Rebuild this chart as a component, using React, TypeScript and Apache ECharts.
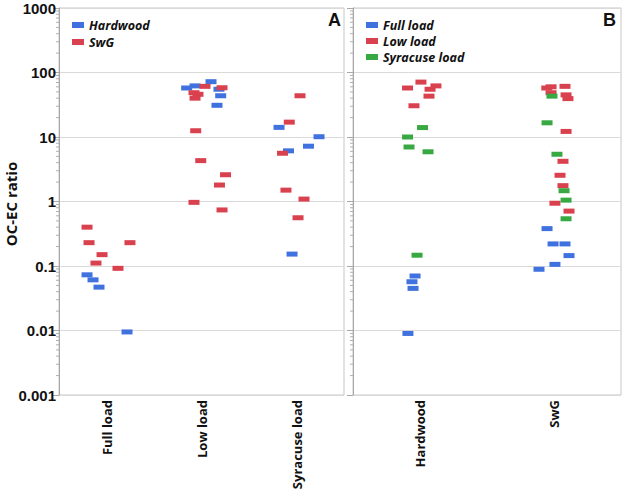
import React, { useEffect, useRef } from "react";
import * as echarts from "echarts";

// ---------- Data ----------
// Panel A: categories are boiler loads, series are fuels
const loadCategories = ["Full load", "Low load", "Syracuse load"];
// Panel B: categories are fuels, series are loads
const fuelCategories = ["Hardwood", "SwG"];

// Each point: [categoryIndex, horizontal jitter (category units), OC-EC ratio]
const panelAHardwood: [number, number, number][] = [
  [0, -0.205, 0.073], [0, -0.142, 0.061], [0, -0.079, 0.047], [0, 0.216, 0.0095],
  [1, -0.156, 57.5], [1, -0.068, 62], [1, 0.1, 72], [1, 0.184, 55], [1, 0.202, 43.6], [1, 0.163, 31],
  [2, -0.184, 14.1], [2, 0.237, 10.1], [2, 0.126, 7.2], [2, -0.084, 6.1], [2, -0.047, 0.153],
];
const panelASwG: [number, number, number][] = [
  [0, -0.205, 0.4], [0, -0.184, 0.23], [0, -0.047, 0.15], [0, -0.111, 0.111], [0, 0.121, 0.092], [0, 0.247, 0.23],
  [1, -0.079, 48.6], [1, -0.037, 45.9], [1, -0.068, 40], [1, 0.037, 61], [1, 0.216, 58],
  [1, -0.061, 12.5], [1, -0.008, 4.3], [1, 0.253, 2.6], [1, 0.189, 1.8], [1, -0.079, 0.97], [1, 0.216, 0.74],
  [2, 0.037, 43.6], [2, -0.076, 17], [2, -0.147, 5.6], [2, -0.111, 1.5], [2, 0.079, 1.09], [2, 0.016, 0.56],
];
const panelBFullLoad: [number, number, number][] = [
  [0, -0.037, 0.07], [0, -0.06, 0.057], [0, -0.052, 0.045], [0, -0.09, 0.009],
  [1, -0.052, 0.38], [1, -0.007, 0.22], [1, 0.082, 0.22], [1, 0.112, 0.145], [1, 0.007, 0.106], [1, -0.112, 0.089],
];
const panelBLowLoad: [number, number, number][] = [
  [0, -0.093, 57.5], [0, 0.007, 71], [0, 0.075, 55], [0, 0.119, 62], [0, 0.067, 43], [0, -0.045, 30.5],
  [1, -0.054, 57.5], [1, -0.022, 60], [1, -0.022, 48.6], [1, 0.082, 61], [1, 0.09, 45], [1, 0.104, 39.4],
  [1, 0.09, 12.2], [1, 0.067, 4.2], [1, 0.045, 2.55], [1, 0.067, 1.76], [1, 0.007, 0.94], [1, 0.112, 0.71],
];
const panelBSyracuse: [number, number, number][] = [
  [0, 0.019, 14], [0, -0.093, 10], [0, -0.082, 7], [0, 0.06, 5.9], [0, -0.022, 0.147],
  [1, -0.015, 43], [1, -0.052, 16.6], [1, 0.022, 5.4], [1, 0.075, 1.47], [1, 0.09, 1.05], [1, 0.09, 0.54],
];

const yTickLabels = ["0.001", "0.01", "0.1", "1", "10", "100", "1000"];
const yAxisTitle = "OC-EC ratio";

// ---------- Styles ----------
const BLUE = "#3F72DE";
const RED = "#D9414E";
const GREEN = "#38A942";
const SEGOE = "'Open Sans', 'DejaVu Sans', sans-serif";
const ARIAL = "'Liberation Sans', Arial, sans-serif";

const minorTickValues: number[] = [];
for (let e = -3; e < 3; e++) {
  for (let m = 2; m <= 9; m++) minorTickValues.push(m * Math.pow(10, e));
}

const toPoints = (arr: [number, number, number][]) => arr.map((p) => [p[0] + p[1], p[2]]);

function scatter(name: string, data: [number, number, number][], color: string, xi: number, yi: number) {
  return {
    type: "scatter",
    name,
    xAxisIndex: xi,
    yAxisIndex: yi,
    data: toPoints(data),
    symbol: "rect",
    symbolSize: [11, 5],
    itemStyle: { color, opacity: 1 },
    emphasis: { disabled: true },
  };
}

function minorTicks(xi: number, yi: number) {
  return {
    type: "custom",
    xAxisIndex: xi,
    yAxisIndex: yi,
    silent: true,
    clip: false,
    data: minorTickValues.map((v) => [0, v]),
    renderItem: (params: any, api: any) => {
      const xMin = params.coordSys.x;
      const y = api.coord([0, api.value(1)])[1];
      return {
        type: "line",
        shape: { x1: xMin - 3, y1: y, x2: xMin, y2: y },
        style: { stroke: "#b0b0b0", lineWidth: 1 },
      };
    },
  };
}

function yAxis(gridIndex: number, showLabels: boolean) {
  return {
    type: "log",
    logBase: 10,
    gridIndex,
    min: 0.001,
    max: 1000,
    axisLine: { show: true, onZero: false, lineStyle: { color: "#a8a8a8", width: 1 } },
    axisTick: { show: true, length: 6, lineStyle: { color: "#a8a8a8" } },
    splitLine: { show: true, lineStyle: { color: "#dadada", width: 1 } },
    axisLabel: {
      show: showLabels,
      margin: 3,
      fontFamily: ARIAL,
      fontWeight: "bold",
      fontSize: 15,
      color: "#111",
      formatter: (v: number) => {
        const idx = Math.round(Math.log10(v)) + 3;
        return yTickLabels[idx] ?? String(v);
      },
    },
  };
}

function catAxis(gridIndex: number, cats: string[]) {
  return {
    type: "category",
    gridIndex,
    data: cats,
    boundaryGap: true,
    axisLine: { show: false, onZero: false },
    axisTick: { show: false },
    splitLine: { show: false },
    axisLabel: {
      rotate: 90,
      margin: 5,
      fontFamily: SEGOE,
      fontWeight: "bold",
      fontSize: 13,
      color: "#111",
    },
  };
}

function valAxis(gridIndex: number, n: number) {
  return { type: "value", gridIndex, min: -0.5, max: n - 0.5, show: false, axisLine: { onZero: false } };
}

const legendText = {
  fontFamily: SEGOE,
  fontWeight: "bold",
  fontStyle: "italic",
  fontSize: 12.5,
  lineHeight: 14,
  color: "#111",
};

export default function App() {
  const ref = useRef<HTMLDivElement>(null);
  useEffect(() => {
    if (!ref.current) return;
    const chart = echarts.init(ref.current, undefined, { renderer: "svg" });
    chart.setOption({
      animation: false,
      backgroundColor: "#ffffff",
      grid: [
        { left: 59, top: 8, width: 285, height: 387, show: true, borderColor: "#c6c6c6", borderWidth: 1, outerBoundsMode: "none", containLabel: false },
        { left: 353, top: 8, width: 268, height: 387, show: true, borderColor: "#c6c6c6", borderWidth: 1, outerBoundsMode: "none", containLabel: false },
      ],
      xAxis: [
        catAxis(0, loadCategories),
        valAxis(0, loadCategories.length),
        catAxis(1, fuelCategories),
        valAxis(1, fuelCategories.length),
      ],
      yAxis: [yAxis(0, true), yAxis(1, false)],
      legend: [
        {
          data: ["Hardwood", "SwG"],
          orient: "vertical",
          left: 67,
          top: 13,
          itemWidth: 12,
          itemHeight: 6,
          itemGap: 3,
          icon: "rect",
          textStyle: legendText,
          selectedMode: false,
        },
        {
          data: ["Full load", "Low load", "Syracuse load"],
          orient: "vertical",
          left: 361,
          top: 13,
          itemWidth: 12,
          itemHeight: 6,
          itemGap: 2,
          icon: "rect",
          textStyle: legendText,
          selectedMode: false,
        },
      ],
      graphic: [
        { type: "text", left: 328, top: 11, style: { text: "A", fontFamily: ARIAL, fontWeight: "bold", fontSize: 18, fill: "#111" } },
        { type: "text", left: 603, top: 11, style: { text: "B", fontFamily: ARIAL, fontWeight: "bold", fontSize: 18, fill: "#111" } },
        {
          type: "text",
          x: 11,
          y: 204,
          rotation: Math.PI / 2,
          style: {
            text: yAxisTitle,
            fontFamily: SEGOE,
            fontWeight: "bold",
            fontSize: 15,
            fill: "#111",
            align: "center",
            verticalAlign: "middle",
          },
        },
      ],
      series: [
        minorTicks(1, 0),
        minorTicks(3, 1),
        scatter("Hardwood", panelAHardwood, BLUE, 1, 0),
        scatter("SwG", panelASwG, RED, 1, 0),
        scatter("Full load", panelBFullLoad, BLUE, 3, 1),
        scatter("Low load", panelBLowLoad, RED, 3, 1),
        scatter("Syracuse load", panelBSyracuse, GREEN, 3, 1),
      ],
    });
    return () => chart.dispose();
  }, []);
  return (
    <div
      ref={ref}
      style={{ position: "absolute", left: 0, top: 0, width: 625, height: 494 }}
    />
  );
}
